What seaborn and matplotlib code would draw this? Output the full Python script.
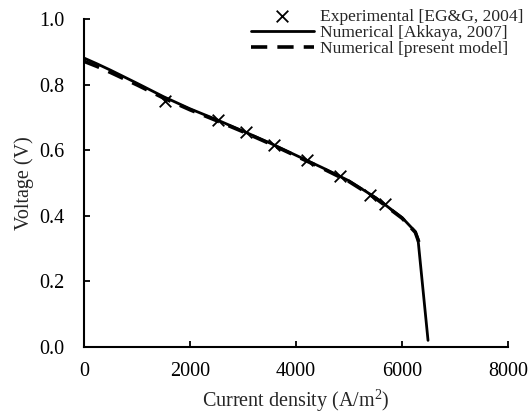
import numpy as np
import pandas as pd
import matplotlib
matplotlib.use("Agg")
import matplotlib.pyplot as plt
import seaborn as sns

# experimental points [EG&G, 2004]
exp_current = [1530, 2530, 3060, 3590, 4200, 4830, 5400, 5680]
exp_voltage = [0.751, 0.692, 0.655, 0.618, 0.570, 0.521, 0.463, 0.435]

# numerical [Akkaya, 2007]
akk_current = [0, 250, 500, 1000, 1500, 2000, 2500, 3000, 3500, 4000, 4500,
               5000, 5500, 6000, 6250, 6300, 6490]
akk_voltage = [0.882, 0.864, 0.845, 0.805, 0.764, 0.727, 0.694, 0.659, 0.623,
               0.585, 0.547, 0.507, 0.456, 0.395, 0.352, 0.330, 0.020]

# numerical [present model]
pm_current = [0, 250, 500, 1000, 1500, 2000, 2500, 3000, 3500, 4000, 4500,
              5000, 5500, 6000, 6250, 6350]
pm_voltage = [0.872, 0.856, 0.838, 0.800, 0.760, 0.724, 0.691, 0.657, 0.621,
              0.583, 0.545, 0.505, 0.454, 0.393, 0.350, 0.305]

sns.set_style("ticks")
plt.rcParams['font.family'] = ['Liberation Serif', 'DejaVu Serif']
plt.rcParams['mathtext.fontset'] = 'custom'
plt.rcParams['mathtext.rm'] = 'Liberation Serif'

fig = plt.figure(figsize=(5.32, 4.13), dpi=100)
ax = fig.add_axes([0.158, 0.160, 0.797, 0.793])

sns.lineplot(x=akk_current, y=akk_voltage, ax=ax, color='black', lw=2.0,
             sort=False, label='Numerical [Akkaya, 2007]')
sns.lineplot(x=pm_current, y=pm_voltage, ax=ax, color='black', lw=2.6,
             sort=False, label='Numerical [present model]')
ax.lines[1].set_dashes([4.5, 2.8])
sns.scatterplot(x=exp_current, y=exp_voltage, ax=ax, marker='x', s=70,
                color='black', linewidth=1.3, label='Experimental [EG&G, 2004]',
                zorder=3)

ax.set_xlim(0, 8000)
ax.set_ylim(0, 1.0)
ax.set_xticks(np.arange(0, 8001, 2000))
ax.set_yticks(np.arange(0, 1.01, 0.2))
ax.yaxis.set_major_formatter(matplotlib.ticker.FormatStrFormatter('%.1f'))
ax.tick_params(direction='in', length=4, width=1.3, labelsize=14.5,
               colors='black')
ax.tick_params(axis='x', pad=11)
ax.tick_params(axis='y', pad=14)
for side in ['left', 'bottom']:
    ax.spines[side].set_linewidth(1.5)
    ax.spines[side].set_color('black')
sns.despine(ax=ax)

ax.set_xlabel('Current density (A/m$^\\mathregular{2}$)', fontsize=14.5,
              labelpad=4)
ax.set_ylabel('Voltage (V)', fontsize=14.5, labelpad=4)

handles, labels = ax.get_legend_handles_labels()
order = [2, 0, 1]
ax.legend([handles[i] for i in order], [labels[i] for i in order],
          loc='upper right', bbox_to_anchor=(1.052, 1.055), frameon=False,
          fontsize=12.6, handlelength=3.6, handletextpad=0.35, labelspacing=0.0,
          borderaxespad=0.0)

fig.savefig('out.png', dpi=100)
